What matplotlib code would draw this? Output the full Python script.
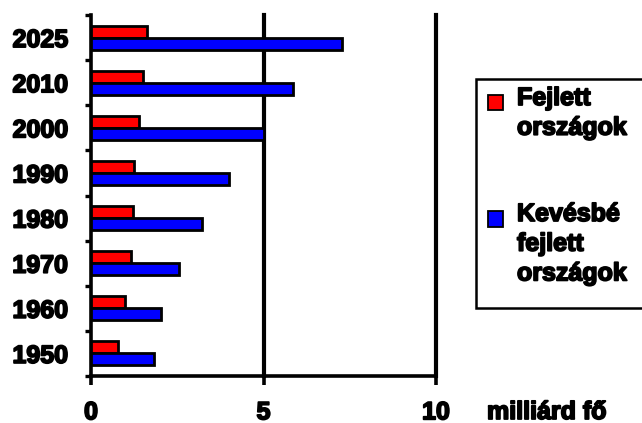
import matplotlib
matplotlib.use("Agg")
import matplotlib.pyplot as plt
from matplotlib.patches import Rectangle
import matplotlib.patheffects as pe
import numpy as np

years = ["1950", "1960", "1970", "1980", "1990", "2000", "2010", "2025"]
developed = [0.79, 0.99, 1.15, 1.21, 1.25, 1.40, 1.50, 1.61]
less_developed = [1.83, 2.03, 2.55, 3.21, 4.01, 5.01, 5.85, 7.27]
series_names = ["Fejlett\nországok", "Kevésbé\nfejlett\nországok"]
series_colors = ["#FF0000", "#0000FF"]
x_ticks = [0, 5, 10]
x_unit = "milliárd fő"

W, H = 642, 423
fig = plt.figure(figsize=(W / 100, H / 100), dpi=100)
fig.patch.set_facecolor("white")

def fx(px):
    return px / W

def fy(py):
    return 1 - py / H

ax = fig.add_axes([fx(91), fy(376), fx(436) - fx(91), fy(15) - fy(376)])

FONT = dict(family="Liberation Sans", weight="bold", size=18)
HEAVY = [pe.withStroke(linewidth=1.3, foreground="black")]

pos = np.arange(len(years))
bh = 0.265
ax.barh(pos + bh / 2, developed, height=bh, color=series_colors[0],
        edgecolor="black", linewidth=2.0, zorder=3)
ax.barh(pos - bh / 2, less_developed, height=bh, color=series_colors[1],
        edgecolor="black", linewidth=2.0, zorder=3)

ax.set_xlim(0, 10)
ax.set_ylim(-0.5, len(years) - 0.5)

for v in x_ticks[1:]:
    ax.axvline(v, color="black", linewidth=3.0, zorder=2, clip_on=False)

ax.spines["top"].set_visible(False)
ax.spines["right"].set_visible(False)
ax.spines["left"].set_linewidth(2.6)
ax.spines["bottom"].set_linewidth(2.6)

ax.set_xticks(x_ticks)
ax.set_xticklabels([str(t) for t in x_ticks], fontdict=FONT)
ax.tick_params(axis="x", direction="out", length=6.5, width=2.6, pad=11)

ax.set_yticks(pos)
ax.set_yticklabels(years, fontdict=FONT)
ax.tick_params(axis="y", which="major", length=0, pad=16.5)
ax.set_yticks(np.arange(-0.5, len(years), 1.0), minor=True)
ax.tick_params(axis="y", which="minor", direction="out", length=4.5, width=2.4)

for t in ax.get_xticklabels() + ax.get_yticklabels():
    t.set_path_effects(HEAVY)

fig.text(fx(487), fy(412), x_unit, ha="left", va="center", path_effects=HEAVY, **FONT)

fig.patches.append(Rectangle((fx(476), fy(308)), fx(720) - fx(476), fy(79) - fy(308),
                             transform=fig.transFigure, facecolor="white",
                             edgecolor="black", linewidth=1.8, figure=fig))
legend_tops = [103, 219]
for name, col, yc in zip(series_names, series_colors, legend_tops):
    fig.patches.append(Rectangle((fx(488), fy(yc + 7.5)), fx(503) - fx(488), fy(0) - fy(15),
                                 transform=fig.transFigure, facecolor=col,
                                 edgecolor="black", linewidth=1.3, figure=fig))
    fig.text(fx(517), fy(yc - 17), name, ha="left", va="top", linespacing=1.3,
             path_effects=HEAVY, **FONT)

fig.savefig("out.png", dpi=100, facecolor="white")
